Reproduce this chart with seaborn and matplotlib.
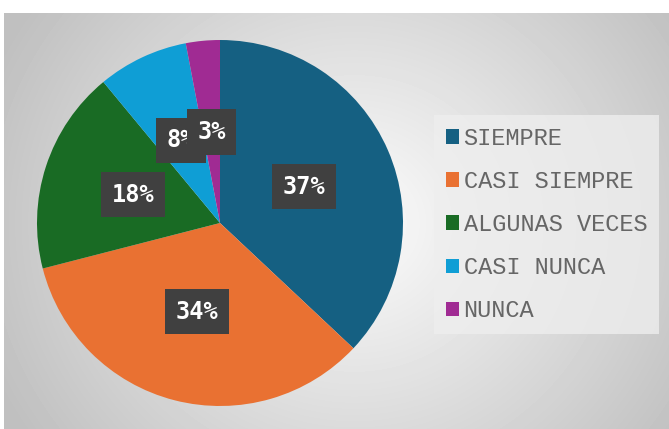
import numpy as np
import matplotlib
matplotlib.use("Agg")
import matplotlib.pyplot as plt
import seaborn as sns

categorias = ["SIEMPRE", "CASI SIEMPRE", "ALGUNAS VECES", "CASI NUNCA", "NUNCA"]
porcentajes = [37, 34, 18, 8, 3]
colores = ["#156082", "#E97132", "#196B24", "#0F9ED5", "#A02B93"]

sns.set_theme(style="white")
palette = sns.color_palette(colores)

fig = plt.figure(figsize=(6.69, 4.29), dpi=100)
fig.patch.set_facecolor("white")

# gray radial background panel
bg = fig.add_axes([4 / 669, 0, 665 / 669, 416 / 429])
yy, xx = np.mgrid[0:416, 0:665]
d = np.sqrt(((xx - 350) / 380.0) ** 2 + ((yy - 210) / 360.0) ** 2)
val = np.clip(252 - 58 * d, 192, 252) / 255.0
bg.imshow(val, cmap="gray", vmin=0, vmax=1, aspect="auto", interpolation="bilinear")
bg.axis("off")

# pie
ax = fig.add_axes([37 / 669, 23 / 429, 366 / 669, 366 / 429])
wedges, texts, autotexts = ax.pie(
    porcentajes,
    colors=palette,
    startangle=90,
    counterclock=False,
    autopct="%d%%",
    pctdistance=0.5,
    wedgeprops=dict(linewidth=0),
    textprops=dict(color="white", fontsize=17, fontweight="bold",
                   family="DejaVu Sans Mono"),
)
for t in autotexts:
    t.set_bbox(dict(boxstyle="square,pad=0.45", facecolor="#404040",
                    edgecolor="none"))
ax.set_xlim(-1, 1)
ax.set_ylim(-1, 1)
ax.axis("off")

leg = fig.legend(
    wedges, categorias,
    loc="upper left",
    bbox_to_anchor=(434 / 669, 1 - 115 / 429),
    borderaxespad=0,
    frameon=True,
    fancybox=False,
    facecolor="#eeeeee",
    edgecolor="none",
    framealpha=0.8,
    prop=dict(family="Liberation Mono", size=17),
    labelcolor="#666666",
    handlelength=0.55,
    handleheight=0.55,
    handletextpad=0.2,
    labelspacing=0.85,
    borderpad=0.5,
)

fig.savefig("out.png", dpi=100)
